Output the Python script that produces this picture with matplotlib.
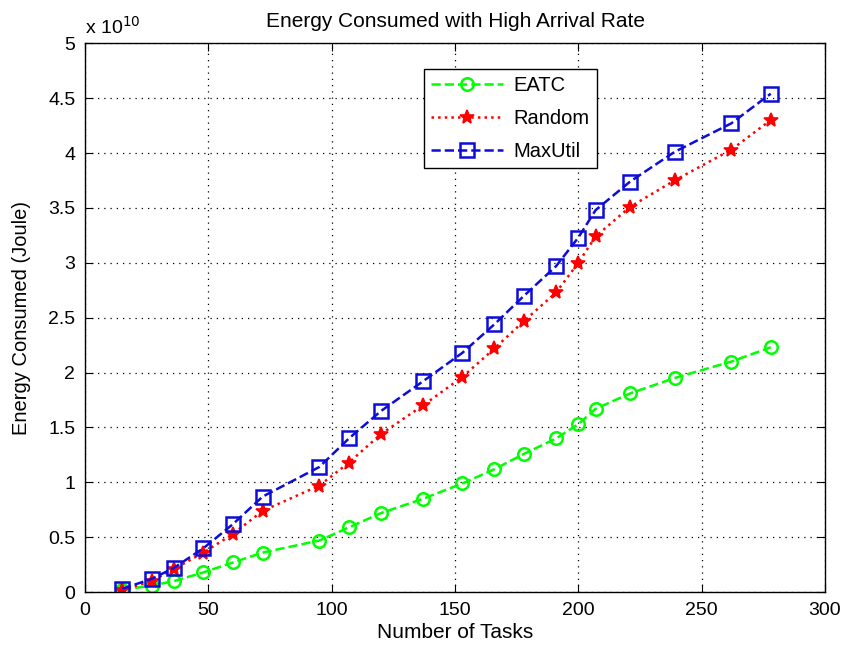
import numpy as np
import matplotlib.pyplot as plt

plt.rcParams['font.family'] = ['Liberation Sans', 'DejaVu Sans']

# number of tasks
tasks = [15, 27, 36, 48, 60, 72, 95, 107, 120, 137, 153, 166, 178, 191, 200, 207, 221, 239, 262, 278]

# energy consumed, in units of 1e10 Joule
eatc = [0.02, 0.06, 0.10, 0.18, 0.27, 0.36, 0.47, 0.59, 0.72, 0.85, 0.99, 1.12, 1.26, 1.40, 1.53, 1.67, 1.81, 1.95, 2.10, 2.23]
random_ = [0.02, 0.10, 0.21, 0.36, 0.53, 0.74, 0.97, 1.18, 1.44, 1.70, 1.96, 2.22, 2.47, 2.73, 3.00, 3.24, 3.51, 3.75, 4.03, 4.30]
maxutil = [0.03, 0.12, 0.22, 0.40, 0.62, 0.87, 1.14, 1.40, 1.65, 1.92, 2.18, 2.44, 2.70, 2.97, 3.23, 3.48, 3.74, 4.01, 4.27, 4.54]
scale = 1e10

fig = plt.figure(figsize=(8.5, 6.55), dpi=100)
ax = fig.add_axes([0.1, 0.096, 0.8706, 0.838])

ax.plot(tasks, np.array(eatc) * scale, '--o', color=(0, 1, 0), lw=1.8, ms=9, mfc='none', mew=1.8, label='EATC')
ax.plot(tasks, np.array(random_) * scale, ':*', color='red', lw=1.8, ms=10, mew=1.2, label='Random')
ax.plot(tasks, np.array(maxutil) * scale, '--s', color=(0.05, 0.05, 0.85), lw=1.8, ms=10, mfc='none', mew=1.8, label='MaxUtil')

ax.set_xlim(0, 300)
ax.set_ylim(0, 5 * scale)
ax.set_xticks(np.arange(0, 301, 50))
yt = np.arange(0, 5.01, 0.5)
ax.set_yticks(yt * scale)
ax.set_yticklabels(['%g' % v for v in yt])
ax.tick_params(direction='in', top=True, right=True, labelsize=14, length=6, pad=7)
ax.grid(True, linestyle=(0, (1, 4)), color='black', lw=0.9)
for s in ax.spines.values():
    s.set_linewidth(1.0)

ax.set_title('Energy Consumed with High Arrival Rate', fontsize=15, pad=12)
ax.set_xlabel('Number of Tasks', fontsize=15, labelpad=3)
ax.set_ylabel('Energy Consumed (Joule)', fontsize=14.5, labelpad=12)
ax.text(0.0, 1.01, r'x 10$^{10}$', transform=ax.transAxes, fontsize=14, va='bottom', ha='left')

leg = ax.legend(loc='upper left', bbox_to_anchor=(0.458, 0.953), fontsize=14.5, fancybox=False,
                edgecolor='black', framealpha=1, handlelength=3.6, borderpad=0.35, labelspacing=0.7,
                handletextpad=0.5, borderaxespad=0)
leg.get_frame().set_linewidth(1.0)

fig.savefig('out.png', dpi=100)
